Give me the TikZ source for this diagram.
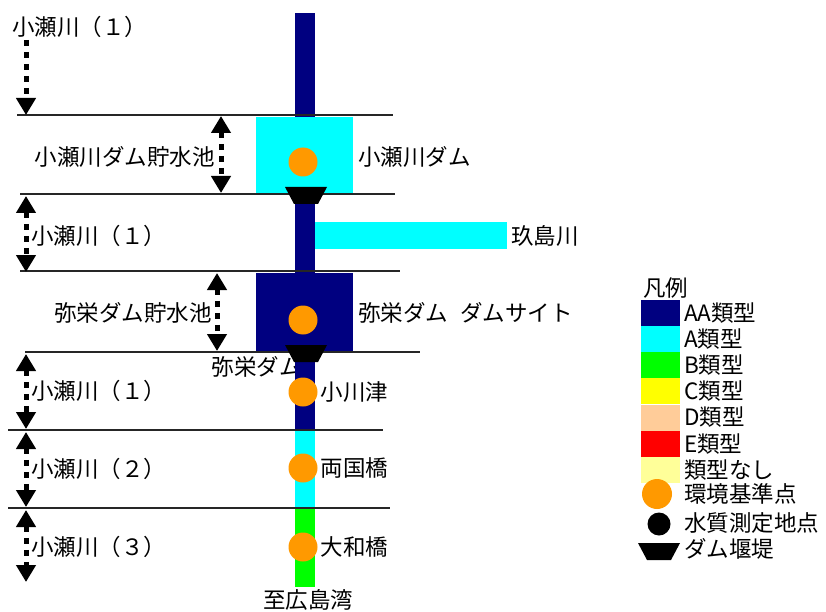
\documentclass[tikz,border=0pt]{standalone}
\usepackage{fontspec}
\setmainfont{Noto Sans CJK JP}
\usetikzlibrary{positioning, arrows.meta}

\definecolor{aa}{RGB}{0,0,128}
\definecolor{ca}{RGB}{0,255,255}
\definecolor{cb}{RGB}{0,255,0}
\definecolor{cc}{RGB}{255,255,0}
\definecolor{cd}{RGB}{255,204,153}
\definecolor{ce}{RGB}{255,0,0}
\definecolor{cn}{RGB}{255,255,153}
\definecolor{pt}{RGB}{255,153,0}

\tikzset{
  weir/.pic={\fill (-21,0) -- (21,0) -- (12,17) -- (-12,17) -- cycle;},
  reach/.style={line width=5pt, dash pattern=on 6pt off 6pt,
    {Triangle[width=19pt,length=17pt]}-{Triangle[width=19pt,length=17pt]}},
  reachdown/.style={line width=5pt, dash pattern=on 6pt off 6pt,
    -{Triangle[width=19pt,length=17pt]}},
  secline/.style={line width=1.2pt, black!85},
  station/.style={circle, fill=pt, minimum size=29pt}
}

\begin{document}
\begin{tikzpicture}[x=1pt, y=-1pt,
  every node/.style={inner sep=0pt, font=\fontsize{22.5}{24}\selectfont}]
\useasboundingbox (0,0) rectangle (826,612);

\node[anchor=east] (yasakadam) at (302,367) {弥栄ダム};

% river
\fill[aa] (295,13) rectangle (315,117);
\fill[ca] (256,117) rectangle (353,194);
\fill[aa] (295,194) rectangle (315,273);
\fill[ca] (315,222) rectangle (507,249);
\fill[aa] (256,273) rectangle (353,352);
\fill[aa] (295,352) rectangle (315,430);
\fill[ca] (295,430) rectangle (315,508);
\fill[cb] (295,508) rectangle (315,587);

% section lines
\draw[secline] (17,115) -- (393,115);
\draw[secline] (20,194) -- (395,194);
\draw[secline] (20,271) -- (400,271);
\draw[secline] (25,352) -- (420,352);
\draw[secline] (8,430) -- (383,430);
\draw[secline] (8,508) -- (390,508);

\coordinate (s1t) at (26,40);   \coordinate (s1b) at (26,115);
\coordinate (s2t) at (221,116); \coordinate (s2b) at (221,193);
\coordinate (s3t) at (26,196);  \coordinate (s3b) at (26,272);
\coordinate (s4t) at (217,273); \coordinate (s4b) at (217,351);
\coordinate (s5t) at (26,354);  \coordinate (s5b) at (26,429);
\coordinate (s6t) at (26,432);  \coordinate (s6b) at (26,507);
\coordinate (s7t) at (26,510);  \coordinate (s7b) at (26,582);

\draw[reachdown] (s1t) -- (s1b);
\draw[reach] (s2t) -- (s2b);
\draw[reach] (s3t) -- (s3b);
\draw[reach] (s4t) -- (s4b);
\draw[reach] (s5t) -- (s5b);
\draw[reach] (s6t) -- (s6b);
\draw[reach] (s7t) -- (s7b);

\node[anchor=west] (r1) at (12,27) {小瀬川（１）};
\node[anchor=east] (r2) at (215,157) {小瀬川ダム貯水池};
\node[anchor=west] (r3) at (31,236) {小瀬川（１）};
\node[anchor=east] (r4) at (212,313) {弥栄ダム貯水池};
\node[anchor=west] (r5) at (31,391) {小瀬川（１）};
\node[anchor=west] (r6) at (31,469) {小瀬川（２）};
\node[anchor=west] (r7) at (31,547) {小瀬川（３）};

% dams and stations
\pic at (306,187) {weir};
\pic at (306,345) {weir};
\node[station] (kosegawa) at (303,162) {};
\node[station] (yasaka) at (303,320) {};
\node[station] (ogawazu) at (303,392) {};
\node[station] (ryogoku) at (303,468) {};
\node[station] (yamato) at (303,547) {};

\node[anchor=west] at (358,157) {小瀬川ダム};
\node[anchor=west] at (358,313) {弥栄ダム\hspace{12pt}ダムサイト};
\node[anchor=west] at (511,236) {玖島川};
\node[right=3pt of ogawazu] {小川津};
\node[right=3pt of ryogoku] {両国橋};
\node[right=3pt of yamato] {大和橋};
\node (bay) at (308,600) {至広島湾};

% legend
\node[anchor=west] (leg) at (643,288) {凡例};
\foreach \c/\t [count=\i] in {aa/AA類型,ca/A類型,cb/B類型,cc/C類型,cd/D類型,ce/E類型,cn/類型なし}{
  \fill[\c] (641,274+26.1*\i) rectangle (680,300+26.1*\i);
  \node[anchor=west] (leg\i) at (684,287+26.1*\i) {\t};
}
\node[station, minimum size=30pt] (legkp) at (657,494) {};
\node[anchor=west] at (684,494) {環境基準点};
\node[circle, fill=black, minimum size=23pt] (legwp) at (659,524) {};
\node[anchor=west] at (684,523) {水質測定地点};
\pic at (659,543) {weir};
\node[anchor=west] at (684,549) {ダム堰堤};
\end{tikzpicture}
\end{document}
